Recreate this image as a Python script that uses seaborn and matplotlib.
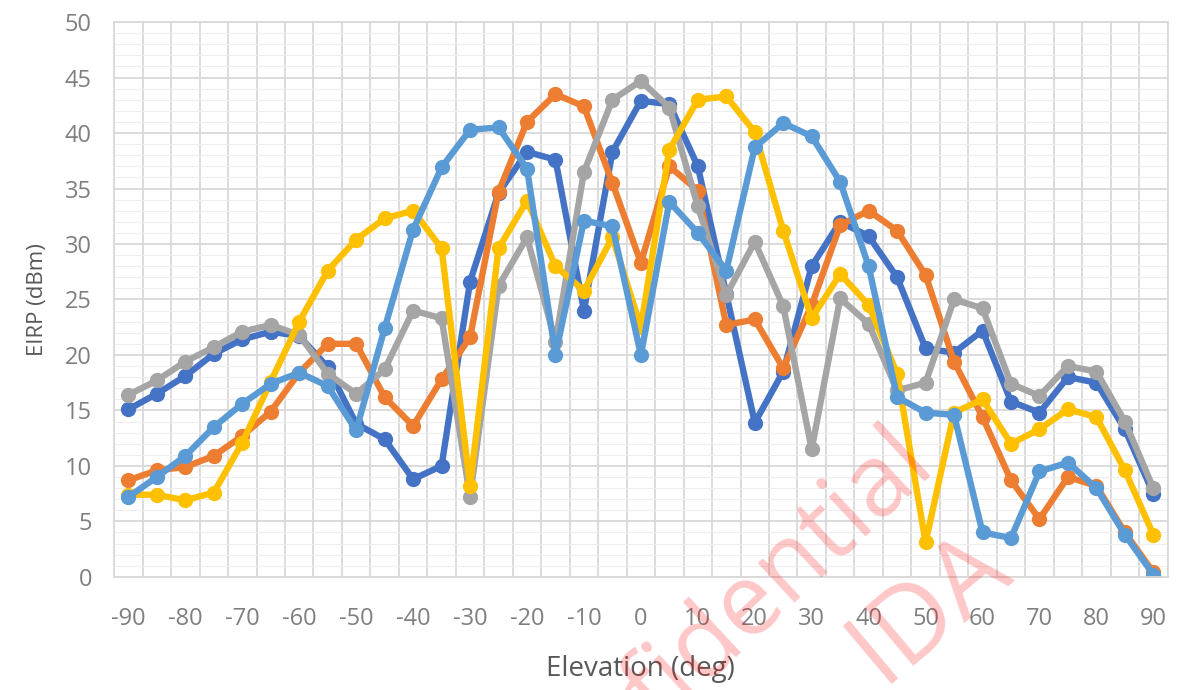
import numpy as np
import pandas as pd
import matplotlib.pyplot as plt
import seaborn as sns

# elevation angles (deg), one point every 5 deg
elevation = list(range(-90, 95, 5))

# EIRP (dBm), one list per beam
beam_1 = [15.1, 16.5, 18.1, 20.1, 21.4, 22.1, 21.7, 18.9, 13.8, 12.4, 8.8, 10.0, 26.6,
          34.6, 38.3, 37.6, 24.0, 38.3, 42.9, 42.6, 37.0, 25.5, 13.9, 18.5, 28.0, 32.0,
          30.7, 27.0, 20.6, 20.2, 22.2, 15.8, 14.8, 18.0, 17.5, 13.3, 7.5]
beam_2 = [8.7, 9.6, 9.9, 10.9, 12.7, 14.9, 18.4, 21.0, 21.0, 16.2, 13.6, 17.8, 21.6,
          34.7, 41.0, 43.5, 42.4, 35.5, 28.3, 37.0, 34.8, 22.7, 23.2, 18.8, 24.5, 31.7,
          33.0, 31.2, 27.2, 19.4, 14.4, 8.7, 5.2, 9.0, 8.2, 4.0, 0.4]
beam_3 = [16.4, 17.7, 19.4, 20.7, 22.1, 22.7, 21.8, 18.3, 16.5, 18.7, 24.0, 23.3, 7.2,
          26.2, 30.6, 21.2, 36.5, 43.0, 44.7, 42.3, 33.4, 25.4, 30.2, 24.4, 11.5, 25.1,
          22.8, 16.8, 17.5, 25.0, 24.2, 17.4, 16.3, 19.0, 18.5, 14.0, 8.0]
beam_4 = [7.4, 7.4, 6.9, 7.6, 12.1, 17.6, 23.0, 27.6, 30.4, 32.3, 33.0, 29.6, 8.2,
          29.6, 33.9, 28.0, 25.8, 30.6, 22.5, 38.5, 43.0, 43.3, 40.1, 31.2, 23.3, 27.3,
          24.5, 18.3, 3.1, 14.8, 16.0, 12.0, 13.3, 15.1, 14.4, 9.6, 3.8]
beam_5 = [7.2, 9.0, 10.9, 13.5, 15.6, 17.4, 18.4, 17.2, 13.2, 22.4, 31.3, 36.9, 40.3,
          40.5, 36.8, 20.0, 32.1, 31.6, 20.0, 33.8, 31.0, 27.6, 38.7, 40.9, 39.7, 35.6,
          28.0, 16.2, 14.8, 14.6, 4.0, 3.5, 9.5, 10.3, 8.0, 3.8, 0.2]

beams = ["Beam 1", "Beam 2", "Beam 3", "Beam 4", "Beam 5"]
colors = ["#4472C4", "#ED7D31", "#A5A5A5", "#FFC000", "#5B9BD5"]

df = pd.concat([
    pd.DataFrame({"elevation": elevation, "eirp": vals, "beam": name})
    for name, vals in zip(beams, [beam_1, beam_2, beam_3, beam_4, beam_5])
])

sns.set_style("white")
plt.rcParams["font.family"] = ["Open Sans", "DejaVu Sans"]
plt.rcParams["axes.unicode_minus"] = False

fig, ax = plt.subplots(figsize=(11.77, 6.9), dpi=100)
fig.subplots_adjust(left=0.097, right=0.992, bottom=0.164, top=0.968)

sns.lineplot(
    data=df, x="elevation", y="eirp", hue="beam", hue_order=beams,
    palette=colors, marker="o", markersize=11, markeredgewidth=0,
    linewidth=4.6, legend=False, ax=ax
)

# category-style axis: points centred in 5-deg cells
ax.set_xlim(-92.5, 92.5)
ax.set_ylim(0, 50)
ax.set_xticks(np.arange(-90, 91, 10))
ax.set_xticks(np.arange(-92.5, 93, 5), minor=True)
ax.set_yticks(np.arange(0, 51, 5))
ax.set_yticks(np.arange(0, 51, 1), minor=True)

ax.grid(False)
ax.grid(which="minor", axis="x", color="#D9D9D9", linewidth=1.3)
ax.grid(which="major", axis="y", color="#D9D9D9", linewidth=1.3)
ax.grid(which="minor", axis="y", color="#EEEEEE", linewidth=0.8)
ax.set_axisbelow(True)

ax.tick_params(which="both", length=0)
ax.tick_params(axis="y", labelsize=17, labelcolor="#7F7F7F", pad=16)
ax.tick_params(axis="x", labelsize=17, labelcolor="#7F7F7F", pad=22)

for s in ax.spines.values():
    s.set_color("#D9D9D9")
    s.set_linewidth(1.3)

ax.set_xlabel("Elevation (deg)", fontsize=20, color="#595959", labelpad=17)
ax.set_ylabel("EIRP (dBm)", fontsize=16, color="#595959", labelpad=12)

# watermark
fig.text(0.605, 0.075, "Confidential", fontsize=72, color="red", alpha=0.22,
         rotation=43, ha="center", va="center", rotation_mode="anchor")
fig.text(0.79, 0.12, "IDA", fontsize=76, color="red", alpha=0.22,
         rotation=40, ha="center", va="center", rotation_mode="anchor")

plt.savefig("out.png", dpi=100)
